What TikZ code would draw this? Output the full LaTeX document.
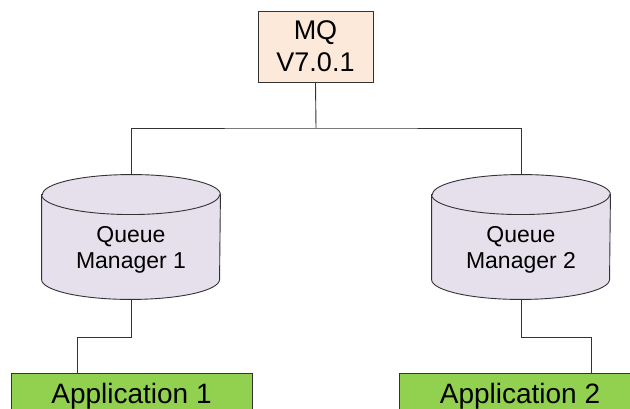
\documentclass[tikz,border=0pt]{standalone}
\usepackage{fontspec}
\setmainfont{Liberation Sans}
\definecolor{peach}{HTML}{FDE9D9}
\definecolor{lav}{HTML}{E5E0EC}
\definecolor{appgreen}{HTML}{92D050}
\definecolor{edge}{HTML}{333333}
\begin{document}
\begin{tikzpicture}[x=1pt,y=-1pt,
  line width=0.9pt,
  mqbox/.style={draw=edge,fill=peach,minimum width=115pt,minimum height=71pt,inner sep=0pt,align=center,font=\fontsize{27}{32}\selectfont},
  cylarea/.style={minimum width=178pt,minimum height=124pt,inner sep=0pt},
  cyltext/.style={align=center,inner sep=0pt,font=\fontsize{23}{26}\selectfont},
  appbox/.style={draw=edge,fill=appgreen,minimum width=241pt,minimum height=46pt,inner sep=0pt,font=\fontsize{28}{32}\selectfont},
  conn/.style={draw=edge,line width=0.9pt}]
\useasboundingbox (0,0) rectangle (630,409);
% nodes
\node[mqbox] (mq) at (315.5,46.5) {MQ\\V7.0.1};
\node[cylarea] (qm1) at (131,237) {};
\node[cylarea] (qm2) at (521,237) {};
\node[appbox] (app1) at (131.5,396) {Application 1};
\node[appbox] (app2) at (520,396) {Application 2};
% cylinders
\foreach \c in {qm1,qm2}{
  \filldraw[draw=edge,fill=lav]
    ([yshift=-20pt]\c.north west) -- ([yshift=20pt]\c.south west)
    arc[start angle=180,end angle=360,x radius=89pt,y radius=20pt]
    -- ([yshift=-20pt]\c.north east)
    arc[start angle=0,end angle=180,x radius=89pt,y radius=20pt] -- cycle;
  \draw[edge] ([yshift=-20pt]\c.north west)
    arc[start angle=180,end angle=360,x radius=89pt,y radius=20pt];
}
\node[cyltext] (qm1t) at (131,250) {Queue\\Manager 1};
\node[cyltext] (qm2t) at (521,250) {Queue\\Manager 2};
% connectors
\coordinate (bus) at (316,128);
\draw[conn] (mq.south) -- (bus);
\draw[conn] (qm1.north) |- (bus) -| (qm2.north);
\draw[conn] (qm1.south) -- ++(0,38) -| ([xshift=67pt]app1.north west);
\draw[conn] (qm2.south) -- ++(0,38) -| ([xshift=192pt]app2.north west);
\end{tikzpicture}
\end{document}
